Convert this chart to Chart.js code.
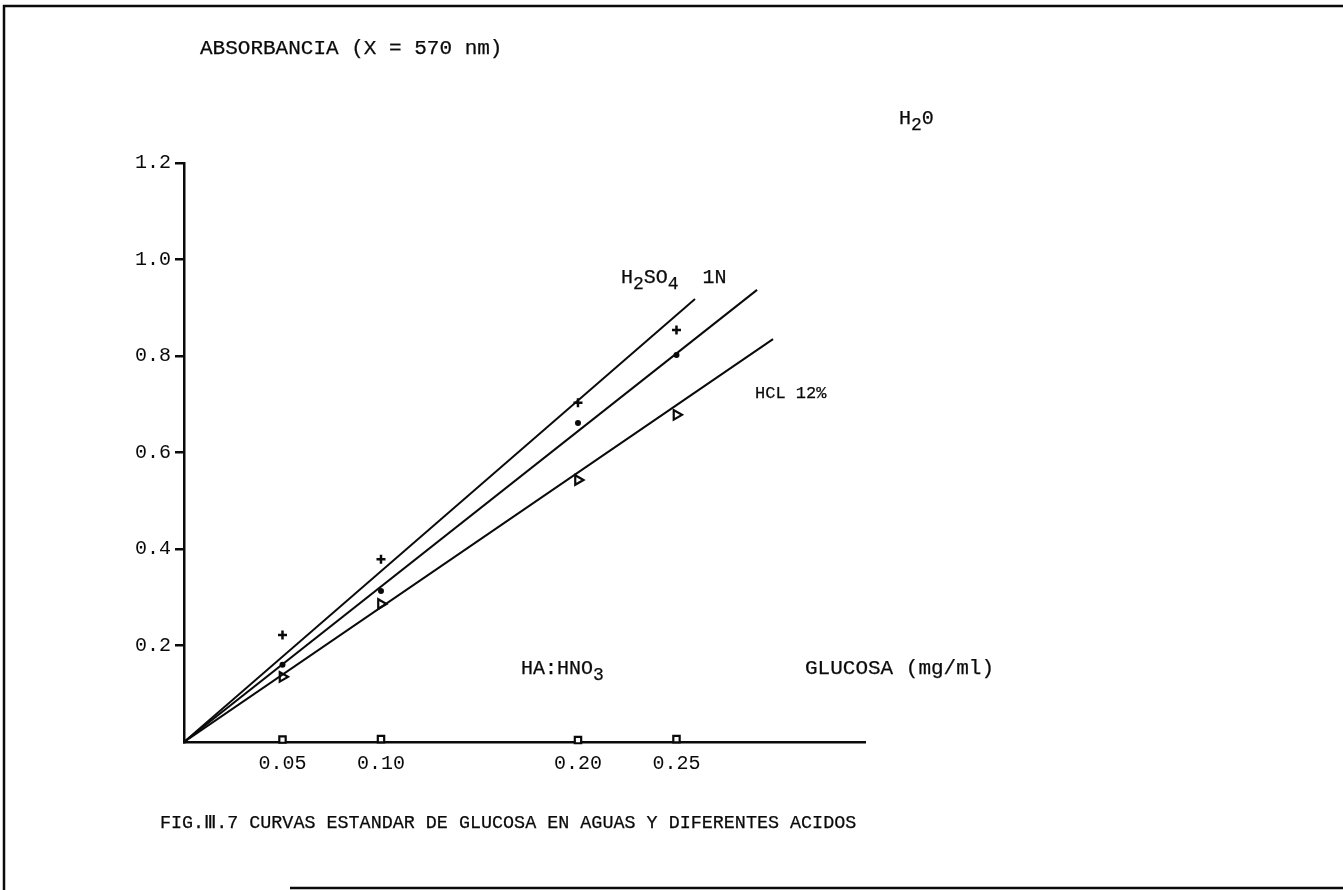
<!DOCTYPE html>
<html>
<head>
<meta charset="utf-8">
<script src="https://cdn.jsdelivr.net/npm/chart.js@4.4.0/dist/chart.umd.min.js"></script>
<style>
  html, body { margin: 0; padding: 0; background: #fff; }
  canvas { display: block; }
</style>
</head>
<body>
<canvas id="c" width="1343" height="890"></canvas>
<script>
// ---- data ----
const concentrations = [0.05, 0.10, 0.20, 0.25];           // GLUCOSA (mg/ml)
const h2oValues      = [0.222, 0.379, 0.703, 0.854];        // "+" marks
const h2so4Values    = [0.160, 0.313, 0.661, 0.802];        // "•" marks
const hclValues      = [0.135, 0.286, 0.543, 0.678];        // triangle marks
const hno3Values     = [0.005, 0.006, 0.004, 0.006];        // square marks
// fitted straight lines (start, end)
const h2oFitX   = [0, 0.2594]; const h2oFitY   = [0, 0.918];
const h2so4FitX = [0, 0.2909]; const h2so4FitY = [0, 0.937];
const hclFitX   = [0, 0.2990]; const hclFitY   = [0, 0.835];
const xTickValues = [0.05, 0.10, 0.20, 0.25];
const yTickValues = [0.2, 0.4, 0.6, 0.8, 1.0, 1.2];

const toPts = (xs, ys) => xs.map((x, i) => ({ x: x, y: ys[i] }));
const INK = '#0a0a0a';
const MONO = '"Liberation Mono", "DejaVu Sans Mono", monospace';

function txt(ctx, t, x, y) {
  ctx.strokeText(t, x, y);
  ctx.fillText(t, x, y);
}

function drawSub(ctx, parts, x, y, size) {
  // parts: [[text, isSub], ...]
  let cx = x;
  parts.forEach(([t, sub]) => {
    const s = sub ? Math.round(size * 0.9) : size;
    ctx.font = s + 'px ' + MONO;
    txt(ctx, t, cx, sub ? y + size * 0.3 : y);
    cx += ctx.measureText(t).width;
  });
}

const decor = {
  id: 'decor',
  beforeDraw(chart) {
    const ctx = chart.ctx;
    ctx.save();
    ctx.fillStyle = '#fff';
    ctx.fillRect(0, 0, chart.width, chart.height);
    ctx.restore();
  },
  afterDraw(chart) {
    const ctx = chart.ctx;
    ctx.save();
    // page frame
    ctx.strokeStyle = INK;
    ctx.lineWidth = 2.5;
    ctx.beginPath();
    ctx.moveTo(4, 890); ctx.lineTo(4, 6); ctx.lineTo(1343, 6);
    ctx.stroke();
    ctx.beginPath();
    ctx.moveTo(290, 888); ctx.lineTo(1343, 888);
    ctx.stroke();

    ctx.fillStyle = INK;
    ctx.strokeStyle = INK;
    ctx.lineWidth = 0.25;
    ctx.textBaseline = 'middle';
    ctx.textAlign = 'left';
    ctx.font = '21px ' + MONO;
    txt(ctx, 'ABSORBANCIA (X = 570 nm)', 200, 48);
    txt(ctx, 'GLUCOSA (mg/ml)', 805, 668);
    ctx.font = '18.4px ' + MONO;
    txt(ctx, 'FIG.Ⅲ.7 CURVAS ESTANDAR DE GLUCOSA EN AGUAS Y DIFERENTES ACIDOS', 160, 823);
    ctx.font = '17px ' + MONO;
    txt(ctx, 'HCL 12%', 755, 393);
    drawSub(ctx, [['H', false], ['2', true], ['0', false]], 899, 119, 20);
    drawSub(ctx, [['H', false], ['2', true], ['SO', false], ['4', true], ['  1N', false]], 621, 278, 20);
    drawSub(ctx, [['HA:HNO', false], ['3', true]], 521, 669, 20);
    ctx.restore();
  }
};

const lineDs = (label, xs, ys) => ({
  type: 'line', label, data: toPts(xs, ys),
  borderColor: INK, borderWidth: 2, pointRadius: 0, fill: false, tension: 0
});

new Chart(document.getElementById('c'), {
  type: 'scatter',
  data: {
    datasets: [
      lineDs('H2O fit', h2oFitX, h2oFitY),
      lineDs('H2SO4 fit', h2so4FitX, h2so4FitY),
      lineDs('HCL fit', hclFitX, hclFitY),
      { label: 'H₂O', data: toPts(concentrations, h2oValues), pointStyle: 'cross',
        radius: 4.5, borderColor: INK, borderWidth: 2.5, clip: false },
      { label: 'H₂SO₄ 1N', data: toPts(concentrations, h2so4Values), pointStyle: 'circle',
        radius: 3, backgroundColor: INK, borderColor: INK, borderWidth: 0, clip: false },
      { label: 'HCL 12%', data: toPts(concentrations, hclValues), pointStyle: 'triangle',
        rotation: 90, radius: 5.5, backgroundColor: '#fff', borderColor: INK, borderWidth: 2.2, clip: false },
      { label: 'HA:HNO₃', data: toPts(concentrations, hno3Values), pointStyle: 'rect',
        radius: 4.5, backgroundColor: '#fff', borderColor: INK, borderWidth: 2.2, clip: false }
    ]
  },
  options: {
    responsive: false,
    devicePixelRatio: 1,
    animation: false,
    layout: { padding: { left: 0, top: 163, right: 478, bottom: 108 } },
    plugins: { legend: { display: false }, tooltip: { enabled: false } },
    scales: {
      x: {
        type: 'linear', min: 0, max: 0.3457,
        afterFit(s) { s.height = 40; },
        afterBuildTicks(s) { s.ticks = xTickValues.map(v => ({ value: v })); },
        grid: { display: false, drawTicks: false },
        border: { display: true, color: INK, width: 2.5 },
        ticks: { color: INK, padding: 10, maxRotation: 0, autoSkip: false,
                 font: { family: MONO, size: 20 },
                 callback: v => v.toFixed(2) }
      },
      y: {
        type: 'linear', min: 0, max: 1.2,
        afterFit(s) { s.width = 184; },
        afterBuildTicks(s) { s.ticks = yTickValues.map(v => ({ value: v })); },
        grid: { drawOnChartArea: false, drawTicks: true, tickLength: 9, color: INK, lineWidth: 2.5 },
        border: { display: true, color: INK, width: 2.5 },
        ticks: { color: INK, padding: 4, autoSkip: false,
                 font: { family: MONO, size: 20 },
                 callback: v => v.toFixed(1) }
      }
    }
  },
  plugins: [decor]
});
</script>
</body>
</html>
